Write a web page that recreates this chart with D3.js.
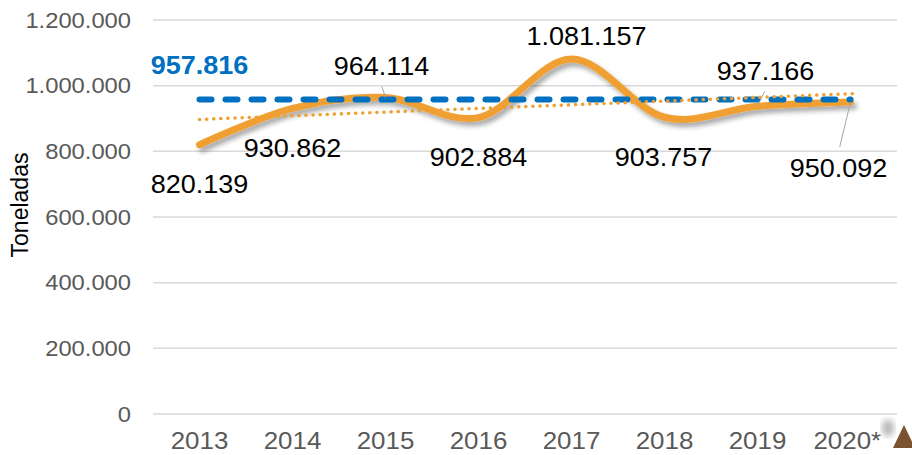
<!DOCTYPE html>
<html>
<head>
<meta charset="utf-8">
<script src="https://cdn.jsdelivr.net/npm/d3@7"></script>
<style>
  body { margin: 0; background: #fff; }
  svg { display: block; font-family: "Liberation Sans", Arial, sans-serif; }
</style>
</head>
<body>
<div id="chart"></div>
<script>
// data
const years = ["2013", "2014", "2015", "2016", "2017", "2018", "2019", "2020*"];
const toneladas = [820139, 930862, 964114, 902884, 1081157, 903757, 937166, 950092];
const promedio = 957816;
const yTicks = [0, 200000, 400000, 600000, 800000, 1000000, 1200000];

// where each value label sits relative to its point (dx, dy) and if it has a leader line
const labelPos = [
  { dx: 0, dy: 48, leader: false },
  { dx: 0, dy: 49, leader: false },
  { dx: -4, dy: -22, leader: true },
  { dx: 0, dy: 48, leader: false },
  { dx: 15, dy: -14, leader: false },
  { dx: -1, dy: 49, leader: false },
  { dx: 8, dy: -26, leader: true },
  { dx: -12, dy: 75, leader: true }
];

const width = 912, height = 455;
const stretch = 1.08; // text in the picture is a bit wide

const loc = d3.formatLocale({ decimal: ",", thousands: ".", grouping: [3], currency: ["", ""] });
const fmt = loc.format(",d");

const svg = d3.select("#chart")
  .append("svg")
  .attr("width", width)
  .attr("height", height);

// shadow for the main line
const defs = svg.append("defs");
const f = defs.append("filter").attr("id", "shadow")
  .attr("x", "-10%").attr("y", "-50%").attr("width", "120%").attr("height", "200%");
f.append("feDropShadow")
  .attr("dx", 3).attr("dy", 4).attr("stdDeviation", 2.5)
  .attr("flood-color", "#000").attr("flood-opacity", 0.35);
const fb = defs.append("filter").attr("id", "blur");
fb.append("feGaussianBlur").attr("stdDeviation", 3);

// scales
const x = d3.scaleBand()
  .domain(years)
  .range([153, 897]);

const y = d3.scaleLinear()
  .domain([0, 1200000])
  .range([414, 20]);

const cx = d => x(d) + x.bandwidth() / 2;

// gridlines
svg.append("g")
  .selectAll("line")
  .data(yTicks)
  .enter()
  .append("line")
    .attr("x1", 153)
    .attr("x2", 897)
    .attr("y1", d => y(d))
    .attr("y2", d => y(d))
    .attr("stroke", "#d9d9d9")
    .attr("stroke-width", 1.5);

// y axis labels
const yAxis = svg.append("g")
  .attr("transform", "translate(131,0)")
  .call(d3.axisLeft(y).tickValues(yTicks).tickFormat(fmt).tickSize(0).tickPadding(0));
yAxis.select(".domain").remove();
yAxis.selectAll("text")
  .attr("fill", "#595959")
  .attr("font-size", 22)
  .attr("font-family", "Liberation Sans, Arial, sans-serif")
  .attr("transform", `scale(${stretch},1)`)
  .attr("x", 0);

// x axis labels
const xAxis = svg.append("g")
  .attr("transform", "translate(0,414)")
  .call(d3.axisBottom(x).tickSize(0).tickPadding(0));
xAxis.select(".domain").remove();
xAxis.selectAll("text")
  .attr("fill", "#595959")
  .attr("font-size", 24)
  .attr("font-family", "Liberation Sans, Arial, sans-serif")
  .attr("dy", null)
  .attr("y", 35)
  .attr("transform", `scale(${stretch},1)`)
  .attr("x", d => d === "2020*" ? -3 : 0);

// axis title
svg.append("text")
  .attr("transform", "translate(28,205) rotate(-90)")
  .attr("text-anchor", "middle")
  .attr("font-size", 23)
  .attr("fill", "#000")
  .text("Toneladas");

// main line
const line = d3.line()
  .x((d, i) => cx(years[i]))
  .y(d => y(d))
  .curve(d3.curveCardinal.tension(0));

svg.append("path")
  .datum(toneladas)
  .attr("d", line)
  .attr("fill", "none")
  .attr("stroke", "#f0a030")
  .attr("stroke-width", 7)
  .attr("stroke-linecap", "round")
  .attr("filter", "url(#shadow)");

// average line
svg.append("line")
  .attr("x1", cx(years[0]))
  .attr("x2", cx(years[years.length - 1]))
  .attr("y1", y(promedio))
  .attr("y2", y(promedio))
  .attr("stroke", "#0070c0")
  .attr("stroke-width", 6)
  .attr("stroke-linecap", "round")
  .attr("stroke-dasharray", "12,14");

// linear trend (least squares on the series)
const idx = d3.range(toneladas.length);
const mx = d3.mean(idx), my = d3.mean(toneladas);
const slope = d3.sum(idx, i => (i - mx) * (toneladas[i] - my)) / d3.sum(idx, i => (i - mx) ** 2);
const trend = i => my + slope * (i - mx);

svg.append("line")
  .attr("x1", cx(years[0]))
  .attr("x2", cx(years[years.length - 1]) + 3)
  .attr("y1", y(trend(0)))
  .attr("y2", y(trend(years.length - 1 + 3 / x.bandwidth())))
  .attr("stroke", "#f0a030")
  .attr("stroke-width", 3.5)
  .attr("stroke-linecap", "round")
  .attr("stroke-dasharray", "0.1,7");

// leader lines
svg.append("g")
  .selectAll("line")
  .data(toneladas.map((v, i) => ({ v, i, p: labelPos[i] })).filter(d => d.p.leader))
  .enter()
  .append("line")
    .attr("x1", d => cx(years[d.i]))
    .attr("y1", d => y(d.v))
    .attr("x2", d => cx(years[d.i]) + d.p.dx * 0.9)
    .attr("y2", d => y(d.v) + (d.p.dy > 0 ? d.p.dy - 30 : d.p.dy + 11))
    .attr("stroke", "#a6a6a6")
    .attr("stroke-width", 1);

// value labels
svg.append("g")
  .selectAll("text")
  .data(toneladas)
  .enter()
  .append("text")
    .attr("transform", (d, i) => `translate(${cx(years[i]) + labelPos[i].dx},${y(d) + labelPos[i].dy}) scale(${stretch},1)`)
    .attr("text-anchor", "middle")
    .attr("font-size", 25)
    .attr("fill", "#000")
    .text(d => fmt(d));

// average label
svg.append("text")
  .attr("transform", `translate(${cx(years[0])},${y(promedio) - 25.5}) scale(${stretch},1)`)
  .attr("text-anchor", "middle")
  .attr("font-size", 25)
  .attr("font-weight", "bold")
  .attr("fill", "#0070c0")
  .text(fmt(promedio));

// small brown marker in the corner
svg.append("ellipse")
  .attr("cx", 888).attr("cy", 428).attr("rx", 6).attr("ry", 9)
  .attr("fill", "#888").attr("opacity", 0.6)
  .attr("filter", "url(#blur)");
svg.append("path")
  .attr("d", d3.line()([[904, 425], [893, 448], [915, 448]]) + "Z")
  .attr("fill", "#7a5230");
</script>
</body>
</html>
